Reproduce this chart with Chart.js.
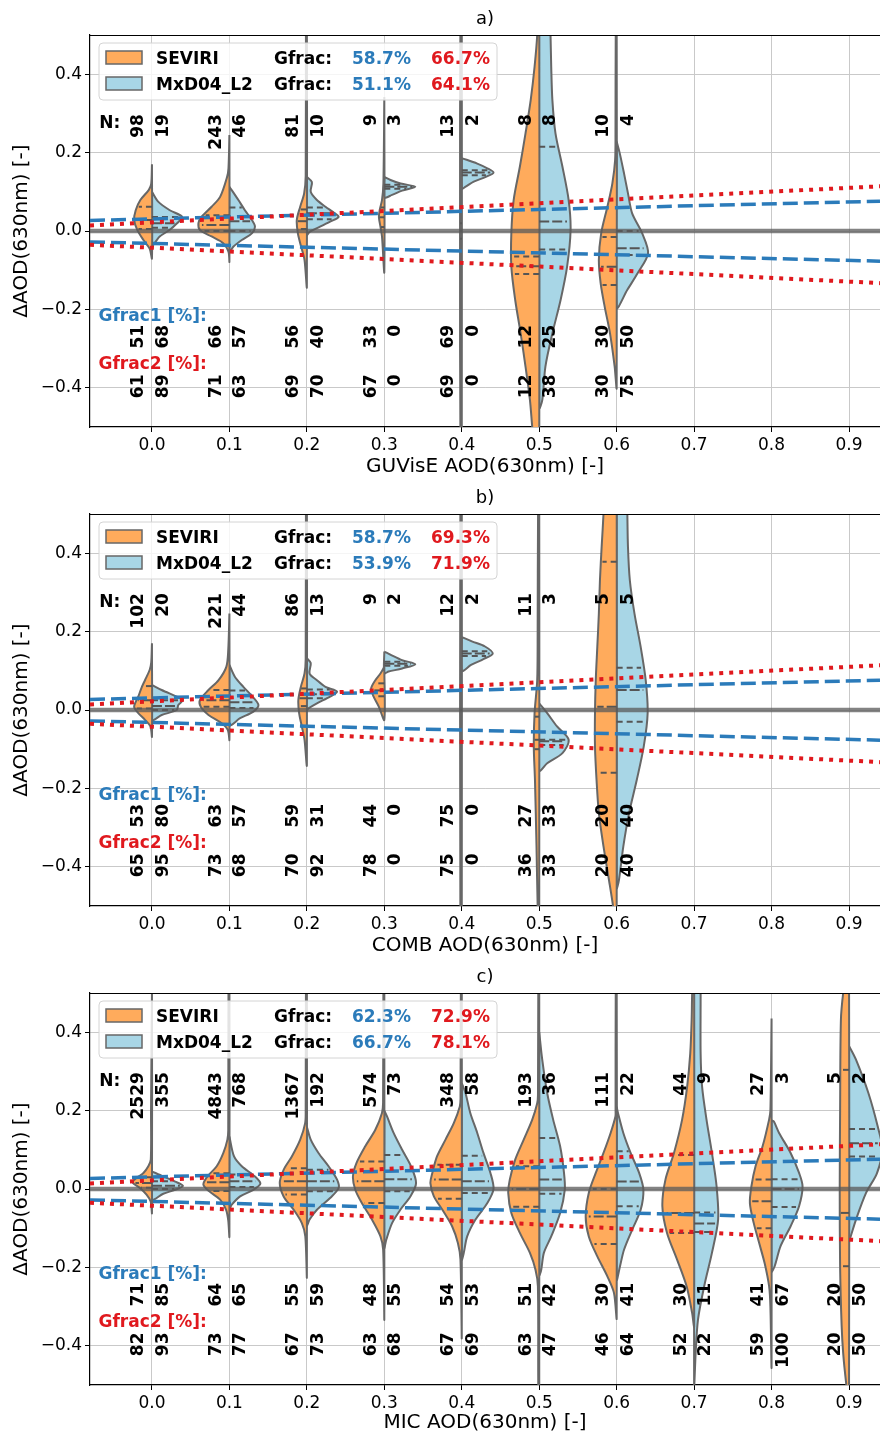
<!DOCTYPE html>
<html><head><meta charset="utf-8">
<script src="https://cdn.jsdelivr.net/npm/chart.js@4.4.1/dist/chart.umd.min.js"></script>
<style>
html,body{margin:0;padding:0;background:#fff;}
body{width:880px;height:1436px;position:relative;overflow:hidden;}
canvas{position:absolute;left:0;}
</style></head><body>
<canvas id="ca" width="880" height="480" style="top:0px"></canvas>
<canvas id="cb" width="880" height="480" style="top:479px"></canvas>
<canvas id="cc" width="880" height="478" style="top:958px"></canvas>
<script>
// ---------------- DATA ----------------
const xTicks = [0.0, 0.1, 0.2, 0.3, 0.4, 0.5, 0.6, 0.7, 0.8, 0.9];
const yTicks = [-0.4, -0.2, 0.0, 0.2, 0.4];
const panelTitles = ['a)', 'b)', 'c)'];
const xTitles = ['GUVisE AOD(630nm) [-]', 'COMB AOD(630nm) [-]', 'MIC AOD(630nm) [-]'];
const seriesNames = ['SEVIRI', 'MxD04_L2'];

// expected-error envelopes (endpoints)
const eeX = [-0.08, 0.94];
const eeBlueUp = [0.027, 0.076];
const eeBlueLo = [-0.028, -0.077];
const eeRedUp = [0.014, 0.114];
const eeRedLo = [-0.035, -0.133];
const zeroY = [0, 0];

// Panel a
const catsA = [0.0, 0.1, 0.2, 0.3, 0.4, 0.5, 0.6];
const nSevA = [98, 243, 81, 9, 13, 8, 10];
const nMxdA = [19, 46, 10, 3, 2, 8, 4];
const g1SevA = [51, 66, 56, 33, 69, 12, 30];
const g1MxdA = [68, 57, 40, 0, 0, 25, 50];
const g2SevA = [61, 71, 69, 67, 69, 12, 30];
const g2MxdA = [89, 63, 70, 0, 0, 38, 75];
const gfracSevA = [58.7, 66.7];
const gfracMxdA = [51.1, 64.1];
// violin half profiles: [deltaAOD, half-width in AOD units], top to bottom
const profSevA = [
  [[0.17,0],[0.12,0.001],[0.105,0.004],[0.079,0.015],[0.053,0.021],[0.028,0.023],[0.003,0.019],[-0.023,0.011],[-0.045,0.003],[-0.07,0]],
  [[0.245,0],[0.16,0.0012],[0.138,0.003],[0.087,0.012],[0.062,0.023],[0.036,0.036],[0.020,0.040],[0.0025,0.038],[-0.014,0.023],[-0.031,0.008],[-0.053,0.0012],[-0.078,0]],
  [[0.56,0],[0.5,0.0012],[0.14,0.0015],[0.096,0.0035],[0.062,0.0086],[0.028,0.013],[-0.006,0.0116],[-0.040,0.0074],[-0.074,0.003],[-0.142,0]],
  [[0.342,0],[0.12,0.0012],[0.079,0.003],[0.053,0.006],[0.036,0.007],[0.011,0.005],[-0.014,0.003],[-0.104,0]],
  [[0.56,0],[0.5,0.0018],[0.1,0.0022],[-0.1,0.0022],[-0.5,0.0018],[-0.56,0]],
  [[0.65,0],[0.5,0.0026],[0.419,0.006],[0.334,0.011],[0.249,0.0177],[0.164,0.025],[0.079,0.033],[-0.006,0.036],[-0.091,0.036],[-0.176,0.031],[-0.261,0.024],[-0.346,0.0177],[-0.431,0.012],[-0.5,0.009],[-0.6,0.004],[-0.68,0]],
  [[0.56,0],[0.5,0.0012],[0.25,0.0015],[0.181,0.002],[0.121,0.0056],[0.062,0.012],[-0.006,0.020],[-0.074,0.023],[-0.133,0.0207],[-0.193,0.0155],[-0.261,0.0086],[-0.346,0.0026],[-0.40,0]]
];
const profMxdA = [
  [[0.10,0],[0.075,0.008],[0.053,0.023],[0.036,0.039],[0.019,0.032],[0.003,0.023],[-0.014,0.010],[-0.036,0]],
  [[0.113,0],[0.079,0.0116],[0.053,0.020],[0.028,0.029],[0.011,0.033],[-0.006,0.029],[-0.023,0.016],[-0.040,0.005],[-0.053,0]],
  [[0.138,0],[0.125,0.0065],[0.100,0.005],[0.079,0.013],[0.062,0.024],[0.045,0.036],[0.036,0.041],[0.024,0.030],[0.011,0.017],[-0.002,0.0035],[-0.01,0]],
  [[0.138,0],[0.13,0.008],[0.121,0.021],[0.113,0.040],[0.103,0.023],[0.092,0.010],[0.086,0]],
  [[0.186,0],[0.172,0.020],[0.160,0.033],[0.149,0.041],[0.138,0.031],[0.126,0.0155],[0.113,0.005],[0.108,0]],
  [[0.75,0],[0.7,0.01],[0.6,0.013],[0.5,0.0146],[0.419,0.0155],[0.334,0.017],[0.249,0.021],[0.164,0.030],[0.079,0.038],[0.0025,0.0405],[-0.091,0.036],[-0.176,0.0276],[-0.261,0.017],[-0.346,0.008],[-0.431,0.004],[-0.452,0]],
  [[0.228,0],[0.198,0.004],[0.147,0.0095],[0.096,0.0146],[0.045,0.020],[-0.006,0.033],[-0.057,0.0405],[-0.108,0.027],[-0.150,0.0138],[-0.195,0]]
];
const qSevA = [[0.005,0.028,0.062],[0.0,0.015,0.04],[0.005,0.025,0.055],[0.01,0.035,0.06],[-0.02,0.0,0.02],[-0.11,-0.09,-0.065],[-0.138,-0.091,-0.015]];
const qMxdA = [[0.008,0.02,0.036],[0.0,0.025,0.06],[0.03,0.045,0.06],[0.108,0.113,0.118],[0.142,0.149,0.155],[-0.047,0.024,0.215],[-0.061,-0.044,0.0]];

// Panel b
const catsB = [0.0, 0.1, 0.2, 0.3, 0.4, 0.5, 0.6];
const nSevB = [102, 221, 86, 9, 12, 11, 5];
const nMxdB = [20, 44, 13, 2, 2, 3, 5];
const g1SevB = [53, 63, 59, 44, 75, 27, 20];
const g1MxdB = [80, 57, 31, 0, 0, 33, 40];
const g2SevB = [65, 73, 70, 78, 75, 36, 20];
const g2MxdB = [95, 68, 92, 0, 0, 33, 40];
const gfracSevB = [58.7, 69.3];
const gfracMxdB = [53.9, 71.9];
const profSevB = [
  [[0.17,0],[0.12,0.001],[0.102,0.003],[0.076,0.009],[0.059,0.013],[0.034,0.0177],[0.008,0.023],[-0.008,0.0177],[-0.025,0.009],[-0.042,0.002],[-0.068,0]],
  [[0.246,0],[0.153,0.0015],[0.110,0.004],[0.076,0.014],[0.051,0.027],[0.0255,0.038],[0.008,0.037],[-0.0127,0.027],[-0.034,0.010],[-0.051,0.002],[-0.076,0]],
  [[0.56,0],[0.5,0.0012],[0.13,0.0015],[0.093,0.003],[0.059,0.0078],[0.0255,0.011],[-0.008,0.010],[-0.042,0.0065],[-0.076,0.003],[-0.14,0]],
  [[0.11,0],[0.093,0.005],[0.076,0.0116],[0.055,0.017],[0.034,0.0138],[0.008,0.007],[-0.025,0]],
  [[0.56,0],[0.5,0.0018],[-0.5,0.0018],[-0.56,0]],
  [[0.6,0],[0.5,0.0015],[0.2,0.002],[0.076,0.0026],[-0.008,0.006],[-0.093,0.007],[-0.178,0.0055],[-0.348,0.0035],[-0.5,0.002],[-0.6,0]],
  [[0.75,0],[0.6,0.015],[0.5,0.017],[0.416,0.0194],[0.331,0.0216],[0.246,0.023],[0.161,0.025],[0.076,0.027],[-0.008,0.028],[-0.093,0.028],[-0.178,0.026],[-0.263,0.023],[-0.348,0.017],[-0.433,0.010],[-0.5,0.0047],[-0.55,0.002],[-0.6,0]]
];
const profMxdB = [
  [[0.064,0],[0.051,0.0125],[0.034,0.032],[0.0255,0.040],[0.0127,0.034],[0,0.032],[-0.0127,0.0125],[-0.025,0]],
  [[0.115,0],[0.085,0.007],[0.059,0.018],[0.034,0.030],[0.0127,0.0375],[-0.004,0.031],[-0.021,0.0138],[-0.038,0]],
  [[0.132,0],[0.12,0.005],[0.093,0.0035],[0.076,0.013],[0.059,0.024],[0.047,0.039],[0.034,0.030],[0.017,0.013],[0.004,0.002],[0,0]],
  [[0.149,0],[0.14,0.009],[0.127,0.023],[0.117,0.040],[0.106,0.023],[0.098,0.0055],[0.094,0]],
  [[0.186,0],[0.175,0.013],[0.162,0.030],[0.144,0.040],[0.130,0.028],[0.115,0.012],[0.10,0]],
  [[0.017,0],[-0.008,0.0103],[-0.042,0.023],[-0.076,0.038],[-0.110,0.030],[-0.136,0.0103],[-0.155,0]],
  [[0.75,0],[0.6,0.013],[0.5,0.0138],[0.416,0.0146],[0.331,0.017],[0.246,0.023],[0.161,0.031],[0.076,0.0375],[-0.008,0.040],[-0.093,0.035],[-0.178,0.026],[-0.263,0.016],[-0.348,0.0086],[-0.433,0.003],[-0.454,0]]
];
const qSevB = [[0.004,0.025,0.061],[0.008,0.025,0.051],[0.01,0.03,0.055],[0.035,0.05,0.068],[-0.05,0.0,0.05],[-0.1,-0.076,-0.017],[-0.16,0.008,0.378]];
const qMxdB = [[0.0,0.01,0.025],[0.005,0.02,0.05],[0.03,0.04,0.052],[0.113,0.118,0.123],[0.138,0.144,0.15],[-0.089,-0.08,-0.076],[-0.03,0.051,0.108]];

// Panel c
const catsC = [0.0, 0.1, 0.2, 0.3, 0.4, 0.5, 0.6, 0.7, 0.8, 0.9];
const nSevC = [2529, 4843, 1367, 574, 348, 193, 111, 44, 27, 5];
const nMxdC = [355, 768, 192, 73, 58, 36, 22, 9, 3, 2];
const g1SevC = [71, 64, 55, 48, 54, 51, 30, 30, 41, 20];
const g1MxdC = [85, 65, 59, 55, 53, 42, 41, 11, 67, 50];
const g2SevC = [82, 73, 67, 63, 67, 63, 46, 52, 59, 20];
const g2MxdC = [93, 77, 73, 68, 69, 47, 64, 22, 100, 50];
const gfracSevC = [62.3, 72.9];
const gfracMxdC = [66.7, 78.1];
const profSevC = [
  [[0.5,0],[0.2,0.0012],[0.075,0.0015],[0.058,0.0047],[0.041,0.011],[0.028,0.020],[0.017,0.025],[0.0025,0.0155],[-0.0145,0.007],[-0.032,0.0017],[-0.061,0]],
  [[0.56,0],[0.5,0.0012],[0.15,0.0015],[0.126,0.0026],[0.092,0.0078],[0.058,0.0164],[0.032,0.0284],[0.011,0.0336],[-0.006,0.026],[-0.027,0.012],[-0.053,0.0043],[-0.08,0.0015],[-0.121,0]],
  [[0.56,0],[0.5,0.0012],[0.2,0.0015],[0.168,0.0022],[0.126,0.0086],[0.083,0.0194],[0.049,0.030],[0.015,0.035],[-0.019,0.030],[-0.053,0.017],[-0.087,0.0065],[-0.121,0.002],[-0.223,0]],
  [[0.56,0],[0.5,0.0012],[0.22,0.0016],[0.194,0.003],[0.151,0.0116],[0.109,0.0246],[0.066,0.036],[0.032,0.0405],[-0.002,0.0375],[-0.036,0.029],[-0.078,0.016],[-0.121,0.005],[-0.155,0.0015],[-0.329,0]],
  [[0.56,0],[0.5,0.0012],[0.23,0.0016],[0.210,0.0026],[0.168,0.0103],[0.126,0.021],[0.083,0.032],[0.041,0.038],[0.015,0.0405],[-0.019,0.036],[-0.053,0.025],[-0.095,0.0125],[-0.138,0.005],[-0.180,0.0017],[-0.376,0]],
  [[0.56,0],[0.5,0.0012],[0.24,0.0016],[0.219,0.0026],[0.177,0.009],[0.126,0.020],[0.075,0.031],[0.024,0.038],[-0.010,0.040],[-0.061,0.036],[-0.112,0.025],[-0.163,0.012],[-0.206,0.0048],[-0.248,0.0017],[-0.5,0.0012],[-0.56,0]],
  [[0.56,0],[0.5,0.0012],[0.2,0.0014],[0.185,0.0016],[0.143,0.0078],[0.092,0.017],[0.041,0.027],[-0.010,0.036],[-0.070,0.040],[-0.121,0.036],[-0.172,0.025],[-0.223,0.012],[-0.265,0.0035],[-0.329,0]],
  [[0.6,0],[0.5,0.0025],[0.431,0.0032],[0.346,0.005],[0.261,0.009],[0.177,0.0155],[0.092,0.026],[0.024,0.037],[-0.044,0.041],[-0.112,0.035],[-0.180,0.022],[-0.248,0.0097],[-0.316,0.0026],[-0.35,0]],
  [[0.435,0],[0.2,0.0015],[0.177,0.0032],[0.109,0.0116],[0.058,0.0207],[0.007,0.026],[-0.036,0.028],[-0.087,0.023],[-0.138,0.016],[-0.189,0.009],[-0.248,0.0032],[-0.30,0.0015],[-0.452,0]],
  [[0.6,0],[0.5,0.0075],[0.43,0.0105],[0.2,0.0115],[0.0,0.012],[-0.2,0.0115],[-0.35,0.0095],[-0.42,0.0075],[-0.49,0.004],[-0.55,0]]
];
const profMxdC = [
  [[0.045,0],[0.032,0.0146],[0.019,0.030],[0.008,0.040],[-0.002,0.030],[-0.012,0.0146],[-0.027,0]],
  [[0.134,0],[0.083,0.006],[0.058,0.016],[0.032,0.033],[0.0135,0.040],[-0.002,0.031],[-0.019,0.0138],[-0.040,0.003],[-0.05,0]],
  [[0.159,0],[0.126,0.005],[0.092,0.015],[0.058,0.028],[0.024,0.039],[0.0025,0.041],[-0.023,0.030],[-0.053,0.013],[-0.078,0.0035],[-0.093,0]],
  [[0.2,0],[0.185,0.0035],[0.143,0.012],[0.100,0.023],[0.058,0.0345],[0.015,0.041],[-0.019,0.0336],[-0.053,0.0207],[-0.087,0.010],[-0.129,0.0026],[-0.15,0]],
  [[0.27,0],[0.245,0.0048],[0.194,0.011],[0.143,0.020],[0.092,0.028],[0.041,0.037],[0.0,0.041],[-0.036,0.033],[-0.078,0.0177],[-0.121,0.007],[-0.163,0.0026],[-0.18,0]],
  [[0.40,0],[0.33,0.0039],[0.245,0.0103],[0.177,0.018],[0.109,0.027],[0.041,0.032],[-0.002,0.033],[-0.061,0.027],[-0.121,0.0155],[-0.163,0.006],[-0.206,0.0026],[-0.22,0]],
  [[0.21,0],[0.194,0.0017],[0.143,0.0086],[0.092,0.018],[0.041,0.029],[-0.002,0.0345],[-0.053,0.031],[-0.104,0.020],[-0.155,0.0095],[-0.197,0.0043],[-0.231,0]],
  [[0.75,0],[0.6,0.008],[0.5,0.0084],[0.346,0.0084],[0.261,0.0103],[0.177,0.016],[0.092,0.023],[0.007,0.029],[-0.078,0.031],[-0.163,0.023],[-0.248,0.013],[-0.333,0.005],[-0.418,0.002],[-0.50,0]],
  [[0.175,0],[0.172,0.003],[0.143,0.0097],[0.092,0.0246],[0.041,0.0355],[0.007,0.040],[-0.044,0.0355],[-0.095,0.0246],[-0.146,0.0116],[-0.197,0.004],[-0.21,0]],
  [[0.365,0],[0.33,0.009],[0.245,0.025],[0.16,0.037],[0.10,0.043],[0.04,0.036],[-0.01,0.022],[-0.078,0.009],[-0.125,0.0015],[-0.13,0]]
];
const qSevC = [[0.003,0.015,0.03],[-0.005,0.017,0.04],[-0.014,0.02,0.053],[-0.036,0.02,0.07],[-0.025,0.024,0.062],[-0.045,0.0,0.058],[-0.14,-0.07,0.0],[-0.112,-0.061,0.087],[-0.10,-0.031,0.024],[-0.197,-0.061,0.304]];
const qMxdC = [[0.0,0.008,0.02],[0.005,0.02,0.037],[-0.006,0.02,0.049],[-0.006,0.025,0.087],[-0.01,0.02,0.085],[-0.012,0.024,0.13],[-0.044,0.019,0.096],[-0.11,-0.088,-0.06],[-0.046,0.0,0.025],[0.083,0.117,0.153]];

// ---------------- STYLE ----------------
const FONT = '"DejaVu Sans", sans-serif';
const ORANGE = '#FFAB5C';
const LBLUE = '#A8D6E6';
const EDGE = '#676767';
const CBLUE = '#2b7bba';
const CRED = '#e0191e';
const GRID = '#c9c9c9';

function fmt(v) { if (Math.abs(v) < 1e-9) v = 0; return v.toFixed(1).replace('-', '\u2212'); }

function widthAt(prof, q) {
  for (let k = 0; k < prof.length - 1; k++) {
    const [y1, w1] = prof[k], [y2, w2] = prof[k + 1];
    if (q <= y1 && q >= y2) { const t = (y1 === y2) ? 0 : (y1 - q) / (y1 - y2); return w1 + (w2 - w1) * t; }
  }
  return 0;
}

function violinDs(x0, prof, sgn, color) {
  const pts = prof.map(([y, w]) => ({ x: x0 + sgn * w, y: y }));
  pts.push({ x: x0, y: prof[0][0] });
  return { type: 'scatter', data: pts, showLine: true, fill: 'shape', backgroundColor: color,
    borderColor: EDGE, borderWidth: 2, pointRadius: 0, tension: 0.3, order: 10 };
}

function innerDs(x0, prof, q, sgn, isMed) {
  const w = widthAt(prof, q) * 0.9;
  return { type: 'scatter', data: [{ x: x0, y: q }, { x: x0 + sgn * w, y: q }], showLine: true, fill: false,
    borderColor: '#555555', borderWidth: 2, borderDash: isMed ? [10, 3] : [6, 4], pointRadius: 0, tension: 0, order: 8 };
}

function lineDs(ys, color, width, dash, order) {
  return { type: 'scatter', data: eeX.map((x, i) => ({ x: x, y: ys[i] })), showLine: true, fill: false,
    borderColor: color, borderWidth: width, borderDash: dash, pointRadius: 0, tension: 0, order: order, borderCapStyle: 'butt' };
}

function vtext(ctx, s, x, y) {
  ctx.save(); ctx.translate(x, y); ctx.rotate(-Math.PI / 2);
  ctx.textAlign = 'right'; ctx.textBaseline = 'middle'; ctx.fillText(s, 0, 0); ctx.restore();
}

function makePanel(id, H, k, cats, profS, profM, qS, qM, nS, nM, g1S, g1M, g2S, g2M, gfS, gfM) {
  const datasets = [];
  cats.forEach((x0, i) => {
    datasets.push(violinDs(x0, profS[i], -1, ORANGE));
    datasets.push(violinDs(x0, profM[i], 1, LBLUE));
    qS[i].forEach((q, j) => datasets.push(innerDs(x0, profS[i], q, -1, j === 1)));
    qM[i].forEach((q, j) => datasets.push(innerDs(x0, profM[i], q, 1, j === 1)));
  });
  datasets.push(lineDs(zeroY, 'rgba(90,90,90,0.75)', 4.5, [], 4));
  datasets.push(lineDs(eeBlueUp, CBLUE, 3.5, [15, 6], 2));
  datasets.push(lineDs(eeBlueLo, CBLUE, 3.5, [15, 6], 2));
  datasets.push(lineDs(eeRedUp, CRED, 4, [4, 6], 1));
  datasets.push(lineDs(eeRedLo, CRED, 4, [4, 6], 1));

  const annot = {
    id: 'annot' + k,
    afterDatasetsDraw(chart) {
      const xs = chart.scales.x, ys = chart.scales.y, ctx = chart.ctx;
      ctx.save();
      ctx.font = 'bold 17px ' + FONT;
      ctx.textAlign = 'left'; ctx.textBaseline = 'alphabetic';
      ctx.fillStyle = '#000';
      ctx.fillText('N:', xs.getPixelForValue(-0.068), ys.getPixelForValue(0.264));
      ctx.fillStyle = CBLUE;
      ctx.fillText('Gfrac1 [%]:', xs.getPixelForValue(-0.069), ys.getPixelForValue(-0.2285));
      ctx.fillStyle = CRED;
      ctx.fillText('Gfrac2 [%]:', xs.getPixelForValue(-0.069), ys.getPixelForValue(-0.352));
      ctx.fillStyle = '#000';
      cats.forEach((x0, i) => {
        const xl = xs.getPixelForValue(x0 - 0.0168), xr = xs.getPixelForValue(x0 + 0.0149);
        vtext(ctx, String(nS[i]), xl, ys.getPixelForValue(0.298));
        vtext(ctx, String(nM[i]), xr, ys.getPixelForValue(0.298));
        vtext(ctx, String(g1S[i]), xl, ys.getPixelForValue(-0.2395));
        vtext(ctx, String(g1M[i]), xr, ys.getPixelForValue(-0.2395));
        vtext(ctx, String(g2S[i]), xl, ys.getPixelForValue(-0.366));
        vtext(ctx, String(g2M[i]), xr, ys.getPixelForValue(-0.366));
      });
      ctx.restore();
    },
    afterDraw(chart) {
      const ctx = chart.ctx, a = chart.chartArea;
      ctx.save();
      // top spine
      ctx.strokeStyle = '#000'; ctx.lineWidth = 1.2;
      ctx.beginPath(); ctx.moveTo(a.left, a.top + 0.5); ctx.lineTo(a.right, a.top + 0.5); ctx.stroke();
      // legend frame
      const L = a.left + 9, T = a.top + 8, W = 398, Hh = 57, r = 4;
      ctx.beginPath();
      ctx.moveTo(L + r, T); ctx.lineTo(L + W - r, T); ctx.quadraticCurveTo(L + W, T, L + W, T + r);
      ctx.lineTo(L + W, T + Hh - r); ctx.quadraticCurveTo(L + W, T + Hh, L + W - r, T + Hh);
      ctx.lineTo(L + r, T + Hh); ctx.quadraticCurveTo(L, T + Hh, L, T + Hh - r);
      ctx.lineTo(L, T + r); ctx.quadraticCurveTo(L, T, L + r, T); ctx.closePath();
      ctx.fillStyle = 'rgba(255,255,255,0.82)'; ctx.fill();
      ctx.strokeStyle = '#d4d4d4'; ctx.lineWidth = 1; ctx.stroke();
      const rows = [[ORANGE, seriesNames[0], gfS], [LBLUE, seriesNames[1], gfM]];
      rows.forEach((row, j) => {
        const py = a.top + 16 + j * 26;
        ctx.fillStyle = row[0]; ctx.fillRect(a.left + 16, py, 36, 13);
        ctx.strokeStyle = EDGE; ctx.lineWidth = 1.5; ctx.strokeRect(a.left + 16, py, 36, 13);
        const by = py + 13.3;
        ctx.font = 'bold 17px ' + FONT; ctx.textAlign = 'left'; ctx.textBaseline = 'alphabetic';
        ctx.fillStyle = '#000';
        ctx.fillText(row[1], a.left + 66, by);
        ctx.fillText('Gfrac:', a.left + 184, by);
        ctx.fillStyle = CBLUE; ctx.fillText(row[2][0].toFixed(1) + '%', a.left + 262, by);
        ctx.fillStyle = CRED; ctx.fillText(row[2][1].toFixed(1) + '%', a.left + 341, by);
      });
      ctx.restore();
    }
  };

  new Chart(document.getElementById(id), {
    type: 'scatter',
    data: { datasets: datasets },
    options: {
      responsive: false, animation: false, events: [], devicePixelRatio: 1,
      layout: { padding: 0 },
      elements: { point: { radius: 0 }, line: { capBezierPoints: false } },
      plugins: {
        legend: { display: false }, tooltip: { enabled: false },
        title: { display: true, text: panelTitles[k], fullSize: false, color: '#000',
          font: { family: FONT, size: 18, weight: 'normal', lineHeight: 1.2 }, padding: { top: 9, bottom: 4.4 } }
      },
      scales: {
        x: {
          type: 'linear', min: -0.08, max: 0.94,
          afterBuildTicks: s => { s.ticks = xTicks.map(v => ({ value: v })); },
          afterFit: s => { s.height = H - 427; },
          ticks: { font: { family: FONT, size: 17 }, color: '#000', padding: 3, autoSkip: false, maxRotation: 0, callback: v => fmt(v) },
          grid: { color: GRID, lineWidth: 1, tickColor: '#000', tickLength: 5, drawTicks: true },
          border: { color: '#000', width: 1.2 },
          title: { display: true, text: xTitles[k], color: '#000', font: { family: FONT, size: 20, lineHeight: 1.2 }, padding: { top: 2, bottom: 1.5 } }
        },
        y: {
          type: 'linear', min: -0.5, max: 0.5,
          afterBuildTicks: s => { s.ticks = yTicks.map(v => ({ value: v })); },
          afterFit: s => { s.width = 90; },
          ticks: { font: { family: FONT, size: 17 }, color: '#000', padding: 3, autoSkip: false, callback: v => fmt(v) },
          grid: { color: GRID, lineWidth: 1, tickColor: '#000', tickLength: 5, drawTicks: true },
          border: { color: '#000', width: 1.2 },
          title: { display: true, text: '\u0394AOD(630nm) [-]', color: '#000', font: { family: FONT, size: 20, lineHeight: 1.2 }, padding: { top: 10, bottom: 0 } }
        }
      }
    },
    plugins: [annot]
  });
}

makePanel('ca', 480, 0, catsA, profSevA, profMxdA, qSevA, qMxdA, nSevA, nMxdA, g1SevA, g1MxdA, g2SevA, g2MxdA, gfracSevA, gfracMxdA);
makePanel('cb', 480, 1, catsB, profSevB, profMxdB, qSevB, qMxdB, nSevB, nMxdB, g1SevB, g1MxdB, g2SevB, g2MxdB, gfracSevB, gfracMxdB);
makePanel('cc', 478, 2, catsC, profSevC, profMxdC, qSevC, qMxdC, nSevC, nMxdC, g1SevC, g1MxdC, g2SevC, g2MxdC, gfracSevC, gfracMxdC);
</script>
</body></html>
